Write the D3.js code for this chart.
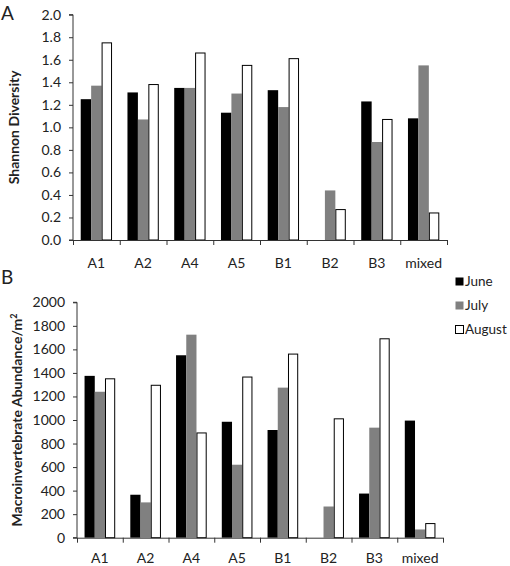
<!DOCTYPE html>
<html><head><meta charset="utf-8">
<script src="https://cdn.jsdelivr.net/npm/d3@7"></script>
<style>body{margin:0;background:#fff}svg{display:block}text{font-family:Lato,"Open Sans",sans-serif;fill:#222}</style>
</head><body><svg id="c" width="510" height="566"></svg>
<script>
const categories = ["A1","A2","A4","A5","B1","B2","B3","mixed"];
const months = ["June","July","August"];
const diversityJune   = [1.25,1.31,1.35,1.13,1.33,0,1.23,1.08];
const diversityJuly   = [1.37,1.07,1.35,1.30,1.18,0.44,0.87,1.55];
const diversityAugust = [1.75,1.38,1.66,1.55,1.61,0.27,1.07,0.24];
const abundJune   = [1375,365,1550,985,915,0,375,995];
const abundJuly   = [1240,300,1725,620,1275,265,935,70];
const abundAugust = [1350,1295,890,1365,1560,1010,1690,120];
const divTicks = [0,0.2,0.4,0.6,0.8,1.0,1.2,1.4,1.6,1.8,2.0];
const abTicks = [0,200,400,600,800,1000,1200,1400,1600,1800,2000];
const fills = {June:"#000000", July:"#808080", August:"#ffffff"};

const svg = d3.select("#c");

function panel(o){
  const g = svg.append("g");
  const x = d3.scaleBand().domain(categories).range([o.x0,o.x1]).paddingInner(0.33).paddingOuter(0.165);
  const xs = d3.scaleBand().domain(months).range([0,x.bandwidth()]);
  const y = d3.scaleLinear().domain([0,o.max]).range([o.y0,o.yT]);
  const series = [o.june,o.july,o.august];
  months.forEach((m,mi)=>{
    g.selectAll(null).data(categories).enter().append("rect")
      .attr("x",c=>x(c)+xs(m)+(m==="August"?0.5:0))
      .attr("width",xs.bandwidth()-(m==="August"?1:0))
      .attr("y",(c,i)=>y(series[mi][i]))
      .attr("height",(c,i)=>series[mi][i]>0? y(0)-y(series[mi][i]) : 0)
      .attr("fill",fills[m])
      .attr("stroke",m==="August"?"#000":"none")
      .attr("stroke-width",1);
  });
  const ya = d3.axisLeft(y).tickValues(o.ticks).tickFormat(o.fmt).tickSize(4).tickPadding(8);
  const yg = g.append("g").attr("transform",`translate(${o.x0},0)`).call(ya);
  yg.select(".domain").attr("stroke","#333").attr("d",`M-4,${o.yT}H0V${o.y0}H-4`);
  yg.selectAll(".tick line").attr("stroke","#333");
  yg.selectAll("text").attr("font-size",14).attr("fill","#222").attr("font-family","Lato,sans-serif");
  const bounds = d3.range(categories.length+1).map(i=>o.x0+i*((o.x1-o.x0)/categories.length));
  g.append("line").attr("x1",o.x0).attr("x2",o.x1).attr("y1",o.y0+0.5).attr("y2",o.y0+0.5).attr("stroke","#333");
  g.selectAll(null).data(bounds).enter().append("line")
    .attr("x1",d=>d+0.5).attr("x2",d=>d+0.5).attr("y1",o.y0).attr("y2",o.y0+5).attr("stroke","#333");
  g.selectAll(null).data(categories).enter().append("text")
    .attr("x",c=>x(c)+x.bandwidth()/2).attr("y",o.labelY)
    .attr("text-anchor","middle").attr("font-size",14).text(c=>c);
  g.append("text").attr("transform",`translate(${o.titleX},${(o.y0+o.yT)/2}) rotate(-90)`)
    .attr("text-anchor","middle").attr("font-size",o.titleSize).attr("font-weight","bold").attr("fill","#111")
    .html(o.title);
  g.append("text").attr("x",1).attr("y",o.letterY).attr("font-size",19).attr("fill","#111").text(o.letter);
}

panel({x0:73,x1:447,y0:240,yT:14.7,max:2,ticks:divTicks,fmt:d3.format(".1f"),
  june:diversityJune,july:diversityJuly,august:diversityAugust,labelY:268,
  title:"Shannon Diversity",titleSize:14,titleX:19,letter:"A",letterY:20});
panel({x0:77,x1:443,y0:537.7,yT:302.3,max:2000,ticks:abTicks,fmt:d3.format("d"),
  june:abundJune,july:abundJuly,august:abundAugust,labelY:563,
  title:'Macroinvertebrate Abundance/m<tspan dy="-5" font-size="9">2</tspan>',titleSize:14,titleX:22,letter:"B",letterY:284});

const lg = svg.append("g");
months.forEach((m,i)=>{
  const yy = 277 + i*24;
  lg.append("rect").attr("x",455.5).attr("y",yy+0.5).attr("width",8).attr("height",8)
    .attr("fill",fills[m]).attr("stroke",m==="August"?"#000":"none");
  lg.append("text").attr("x",465).attr("y",yy+9).attr("font-size",13.5).text(m);
});
</script></body></html>
